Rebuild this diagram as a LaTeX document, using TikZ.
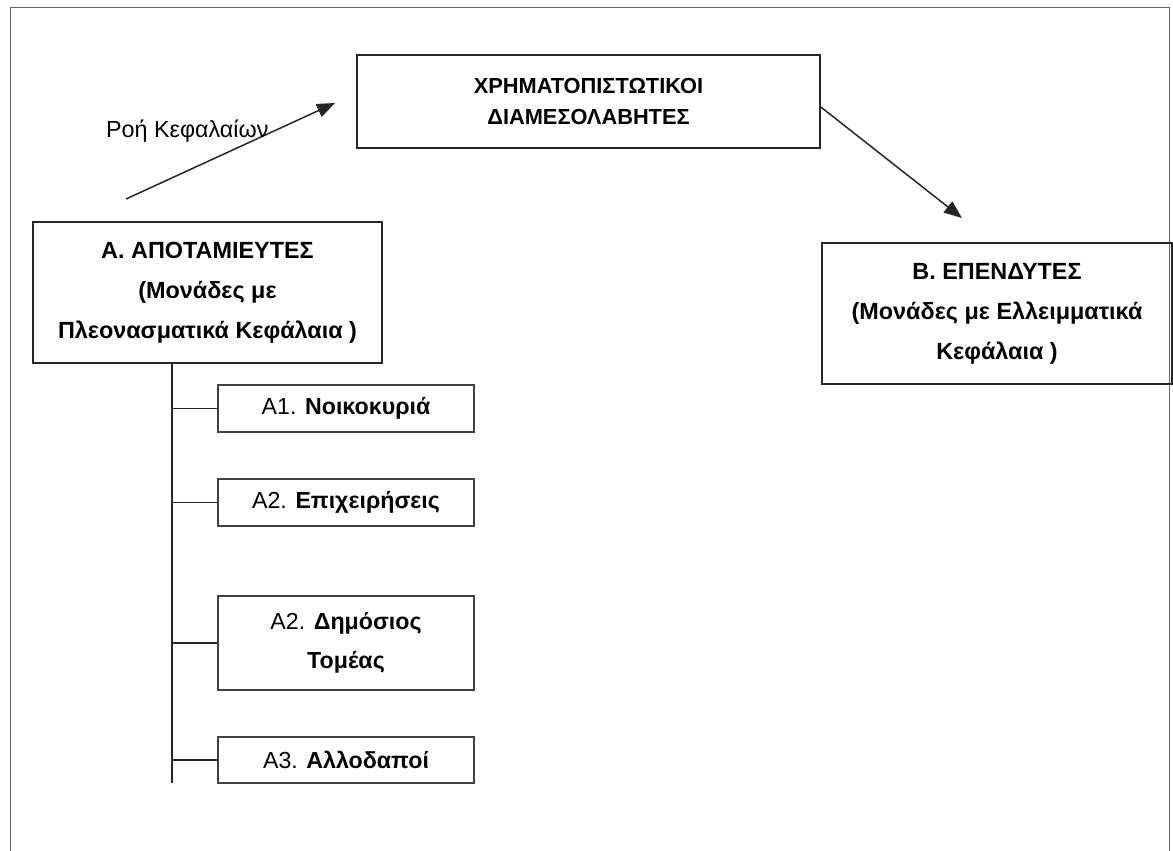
\documentclass[tikz,border=0pt]{standalone}
\usepackage{fontspec}
\setmainfont{Liberation Sans}
\usetikzlibrary{arrows.meta}
\begin{document}
\begin{tikzpicture}[x=1pt,y=-1pt,
  mainbox/.style={draw=black!85,line width=1.6pt,minimum width=#1,inner sep=0pt,align=center,font=\fontsize{23.4}{40}\selectfont\bfseries},
  subbox/.style={draw=black!75,line width=1.1pt,minimum width=256pt,inner sep=0pt,align=center,font=\fontsize{23.2}{39}\selectfont},
  flow/.style={line width=1.5pt,draw=black!85,-{Triangle[length=18pt,width=14pt]}},
  tree/.style={line width=1.5pt,draw=black!85}]
\useasboundingbox (0,0) rectangle (1173,851);
\begin{scope}
\clip (0,0) rectangle (1173,851);
\draw[black!60,line width=1pt] (10,8) rectangle (1169,900);
\end{scope}
\node[mainbox=463pt,minimum height=93pt,font=\fontsize{21.8}{31}\selectfont\bfseries] (fin) at (588.5,101.5) {ΧΡΗΜΑΤΟΠΙΣΤΩΤΙΚΟΙ\\ΔΙΑΜΕΣΟΛΑΒΗΤΕΣ};
\node[mainbox=349pt,minimum height=141pt] (sav) at (207.5,292.5) {Α. ΑΠΟΤΑΜΙΕΥΤΕΣ\\(Μονάδες με\\Πλεονασματικά Κεφάλαια )};
\node[mainbox=350pt,minimum height=141pt] (inv) at (997,313.5) {Β. ΕΠΕΝΔΥΤΕΣ\\(Μονάδες με Ελλειμματικά\\Κεφάλαια )};
\node[subbox,minimum height=47pt] (a1) at (346,408.5) {Α1. \textbf{Νοικοκυριά}};
\node[subbox,minimum height=47pt] (a2) at (346,502.5) {Α2. \textbf{Επιχειρήσεις}};
\node[subbox,minimum height=94pt] (a2b) at (346,643) {Α2. \textbf{Δημόσιος}\\\textbf{Τομέας}};
\node[subbox,minimum height=46pt] (a3) at (346,760) {Α3. \textbf{Αλλοδαποί}};
\coordinate (fs) at (126,199);
\coordinate (fe) at (335,103);
\coordinate (ie) at (962,218);
\coordinate (vt) at (172,363);
\coordinate (vb) at (172,783);
\draw[flow] (fs) -- (fe);
\node[font=\fontsize{23.3}{26}\selectfont,anchor=west,inner sep=0pt] (lbl) at (106,131) {Ροή Κεφαλαίων};
\draw[flow] ([yshift=-5.5pt]fin.east) -- (ie);
\draw[tree] (vt) -- (vb);
\foreach \n in {a1,a2,a2b,a3} \draw[tree] (\n.west) -- (\n.west -| vt);
\end{tikzpicture}
\end{document}
